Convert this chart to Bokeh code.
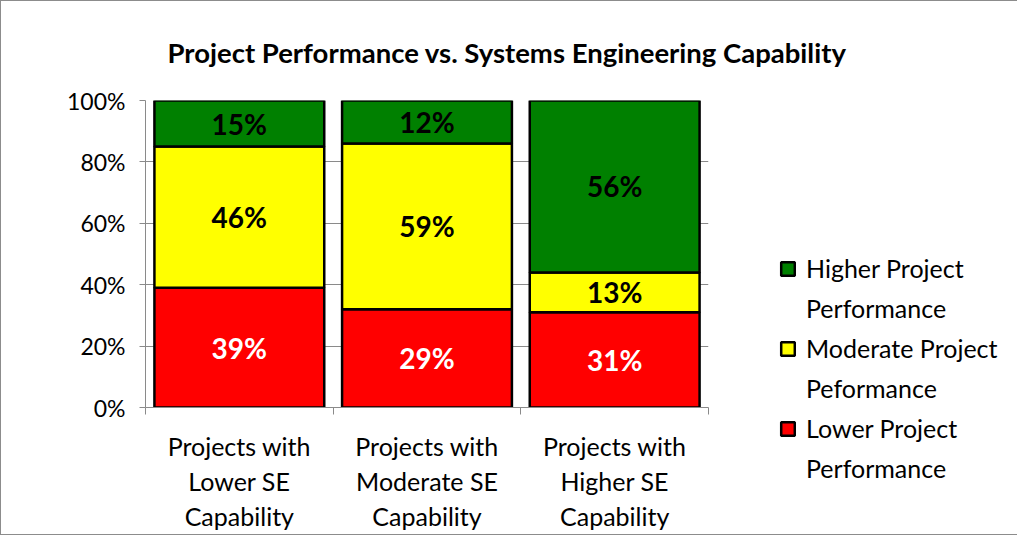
from bokeh.plotting import figure
from bokeh.models import (ColumnDataSource, FixedTicker, NumeralTickFormatter,
                          Legend, LegendItem, Range1d, Title)
from bokeh.core.properties import value
from bokeh.embed import file_html
from bokeh.resources import INLINE

# ---- data ----
categories = ["Projects with\nLower SE\nCapability",
              "Projects with\nModerate SE\nCapability",
              "Projects with\nHigher SE\nCapability"]
lower = [0.39, 0.32, 0.31]
moderate = [0.46, 0.54, 0.13]
higher = [0.15, 0.14, 0.56]
lower_labels = ["39%", "29%", "31%"]
moderate_labels = ["46%", "59%", "13%"]
higher_labels = ["15%", "12%", "56%"]
series_names = ["Lower Project\nPerformance", "Moderate Project\nPeformance",
                "Higher Project\nPerformance"]
colors = ["#FF0000", "#FFFF00", "#008000"]
label_colors = ["white", "black", "black"]
title_text = "Project Performance vs. Systems Engineering Capability"
y_ticks = [0, 0.2, 0.4, 0.6, 0.8, 1.0]

FONT = "Lato"
xs = [i + 0.5 for i in range(len(categories))]

p = figure(frame_width=563, frame_height=307,
           x_range=Range1d(0, 3), y_range=Range1d(0, 1),
           output_backend="svg", toolbar_location=None,
           min_border_left=144, min_border_top=99, min_border_right=299,
           min_border_bottom=10)
p.outline_line_color = None
p.background_fill_color = "white"
p.border_fill_color = "white"
p.styles = {"border": "1px solid #8c8c8c"}

series = [lower, moderate, higher]
labels = [lower_labels, moderate_labels, higher_labels]
renderers = []
bottoms = [0.0] * len(xs)
for vals, col, labs, lc in zip(series, colors, labels, label_colors):
    tops = [b + v for b, v in zip(bottoms, vals)]
    src = ColumnDataSource(dict(x=xs, bottom=bottoms, top=tops,
                                mid=[(b + t) / 2 for b, t in zip(bottoms, tops)],
                                lab=labs))
    r = p.vbar(x="x", bottom="bottom", top="top", width=0.905, source=src,
               fill_color=col, line_color="black", line_width=2.5)
    renderers.append(r)
    p.text(x="x", y="mid", text="lab", source=src, text_align="center",
           text_baseline="middle", text_font=value(FONT), text_font_style="bold",
           text_font_size="28px", text_color=lc)
    bottoms = tops

# invisible swatch for the second line of each legend entry
blank = p.vbar(x=[], top=[], width=0.9, fill_alpha=0, line_alpha=0)

# grid
p.xgrid.visible = False
p.ygrid.ticker = FixedTicker(ticks=y_ticks)
p.ygrid.grid_line_color = "#8a8a8a"
p.ygrid.grid_line_width = 1

# y axis
p.yaxis.ticker = FixedTicker(ticks=y_ticks)
p.yaxis.formatter = NumeralTickFormatter(format="0%")
p.yaxis.axis_line_color = "#8a8a8a"
p.yaxis.major_tick_line_color = "#8a8a8a"
p.yaxis.major_tick_out = 6
p.yaxis.major_tick_in = 0
p.yaxis.minor_tick_line_color = None
p.yaxis.major_label_text_font = FONT
p.yaxis.major_label_text_font_size = "23px"
p.yaxis.major_label_text_color = "black"
p.yaxis.major_label_standoff = 14

# x axis
p.xaxis.ticker = FixedTicker(ticks=xs, minor_ticks=[0, 1, 2, 3])
p.xaxis.major_label_overrides = {x: c for x, c in zip(xs, categories)}
p.xaxis.axis_line_color = "#8a8a8a"
p.xaxis.major_tick_line_color = None
p.xaxis.major_tick_out = 0
p.xaxis.major_tick_in = 0
p.xaxis.minor_tick_line_color = "#8a8a8a"
p.xaxis.minor_tick_out = 7
p.xaxis.minor_tick_in = 0
p.xaxis.major_label_text_font = FONT
p.xaxis.major_label_text_font_size = "25px"
p.xaxis.major_label_text_color = "black"
p.xaxis.major_label_text_line_height = 1.18
p.xaxis.major_label_standoff = 16

# legend: each entry as two rows so the swatch sits beside the first line
items = []
for n, r in list(zip(series_names, renderers))[::-1]:
    first, second = n.split("\n")
    items.append(LegendItem(label=first, renderers=[r]))
    items.append(LegendItem(label=second, renderers=[blank]))
legend = Legend(items=items, location=(71, -76), label_text_font=FONT,
                label_text_font_size="25px", label_text_color="black",
                glyph_width=17, glyph_height=17, spacing=10, padding=0, margin=0,
                border_line_color=None, background_fill_alpha=0,
                label_standoff=10)
p.add_layout(legend, "right")

# title
p.add_layout(Title(text=title_text, align="left", offset=22, standoff=64,
                   text_font=FONT, text_font_style="bold", text_font_size="27.5px",
                   text_color="black"), "above")

open("out.html", "w").write(file_html(p, INLINE))
